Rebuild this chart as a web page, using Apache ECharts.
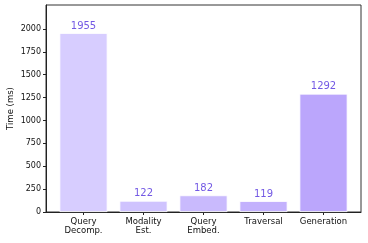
<!DOCTYPE html>
<html>
<head>
<meta charset="utf-8">
<script src="https://cdn.jsdelivr.net/npm/echarts@6/dist/echarts.min.js"></script>
<style>
  html, body { margin: 0; padding: 0; background: #fff; }
  #chart { width: 368px; height: 243px; }
</style>
</head>
<body>
<div id="chart"></div>
<script>
const categories = ['Query\nDecomp.', 'Modality\nEst.', 'Query\nEmbed.', 'Traversal', 'Generation'];
const times = [1955, 122, 182, 119, 1292];
const barColors = ['#d7cdff', '#cfc3fe', '#c9bafd', '#c3b1fd', '#bba6fc'];
const yTicks = [0, 250, 500, 750, 1000, 1250, 1500, 1750, 2000];

const font = 'DejaVu Sans';
const positions = categories.map((c, i) => i);

let myCharts = echarts.init(document.getElementById('chart'));
let option = {
  animation: false,
  textStyle: { fontFamily: font },
  grid: {
    left: 46,
    right: 7,
    top: 5,
    bottom: 31,
    outerBoundsMode: 'none',
    show: true,
    borderColor: '#333',
    borderWidth: 1,
    backgroundColor: 'transparent'
  },
  xAxis: {
    type: 'value',
    min: -0.625,
    max: 4.625,
    splitLine: { show: false },
    axisLine: { show: true, onZero: false, lineStyle: { color: '#222' } },
    axisTick: { show: true, customValues: positions, length: 3, lineStyle: { color: '#222' } },
    axisLabel: {
      customValues: positions,
      formatter: v => categories[Math.round(v)],
      color: '#111',
      fontFamily: font,
      fontSize: 8.5,
      lineHeight: 9,
      margin: 5
    }
  },
  yAxis: {
    type: 'value',
    min: 0,
    max: 2262,
    name: 'Time (ms)',
    nameLocation: 'middle',
    nameGap: 31,
    nameMoveOverlap: false,
    nameTextStyle: { color: '#111', fontFamily: font, fontSize: 8.5 },
    splitLine: { show: false },
    axisLine: { show: true, onZero: false, lineStyle: { color: '#222' } },
    axisTick: { show: true, customValues: yTicks, length: 3, lineStyle: { color: '#222' } },
    axisLabel: {
      customValues: yTicks,
      formatter: v => String(v),
      color: '#111',
      fontFamily: font,
      fontSize: 8,
      margin: 5
    }
  },
  series: [
    {
      type: 'bar',
      barWidth: 48,
      data: times.map((v, i) => ({
        value: [i, v],
        itemStyle: { color: barColors[i], borderColor: '#fff', borderWidth: 0.8 }
      })),
      label: {
        show: true,
        position: 'top',
        distance: 2,
        formatter: p => p.value[1],
        color: '#7359e4',
        fontFamily: font,
        fontSize: 10
      }
    }
  ]
};
myCharts.setOption(option);
window.addEventListener('resize', function () {
  myCharts.resize();
});
</script>
</body>
</html>
